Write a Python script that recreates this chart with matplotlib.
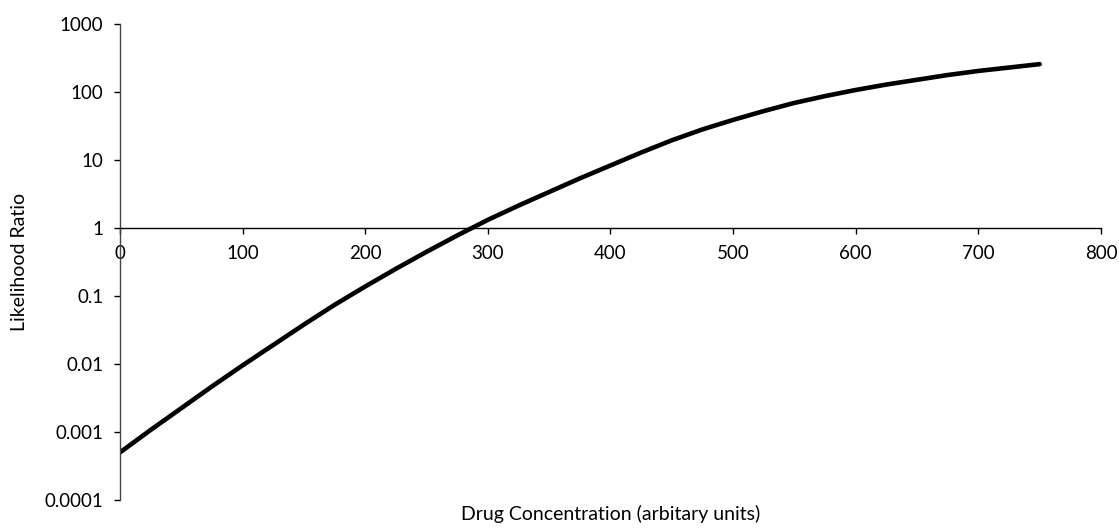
import matplotlib
matplotlib.use("Agg")
import matplotlib.pyplot as plt

# Data (log10 of likelihood ratio)
concentration = [0, 25, 50, 75, 100, 125, 150, 175, 200, 225, 250, 275, 300, 325, 350, 375,
                 400, 425, 450, 475, 500, 525, 550, 575, 600, 625, 650, 675, 700, 725, 750]
log10_ratio = [-3.30, -2.97, -2.65, -2.33, -2.02, -1.72, -1.42, -1.13, -0.86, -0.60, -0.35, -0.11,
               0.12, 0.33, 0.53, 0.73, 0.92, 1.11, 1.29, 1.45, 1.59, 1.72, 1.84, 1.94, 2.03,
               2.11, 2.18, 2.25, 2.31, 2.36, 2.41]
y_ticks = [0.0001, 0.001, 0.01, 0.1, 1, 10, 100, 1000]
y_tick_labels = ["0.0001", "0.001", "0.01", "0.1", "1", "10", "100", "1000"]
x_ticks = [0, 100, 200, 300, 400, 500, 600, 700, 800]

plt.rcParams['font.family'] = ['Lato', 'DejaVu Sans']

fig = plt.figure(figsize=(11.19, 5.28), dpi=100)
ax = fig.add_axes([0.1072, 0.053, 0.8767, 0.9015])

ratio = [10 ** v for v in log10_ratio]
ax.plot(concentration, ratio, color='black', linewidth=3.3, solid_capstyle='round',
        solid_joinstyle='round')

ax.set_yscale('log')
ax.set_ylim(0.0001, 1000)
ax.set_xlim(0, 800)
ax.set_yticks(y_ticks)
ax.set_yticklabels(y_tick_labels)
ax.yaxis.set_minor_locator(matplotlib.ticker.NullLocator())
ax.set_xticks(x_ticks)
ax.set_xticklabels([str(v) for v in x_ticks])

for s in ['top', 'right']:
    ax.spines[s].set_visible(False)
ax.spines['bottom'].set_position(('data', 1))
ax.spines['bottom'].set_color('black')
ax.spines['left'].set_color('#444444')
ax.spines['bottom'].set_linewidth(1.0)
ax.spines['left'].set_linewidth(1.0)

ax.tick_params(axis='both', direction='out', length=4, width=1, labelsize=13.5, colors='black')
ax.tick_params(axis='y', pad=8)
ax.tick_params(axis='x', pad=8)

ax.set_ylabel("Likelihood Ratio", fontsize=14, labelpad=12)
fig.text(0.546, 0.026, "Drug Concentration (arbitary units)", ha='center', va='center', fontsize=14)

fig.savefig("out.png", dpi=100)
